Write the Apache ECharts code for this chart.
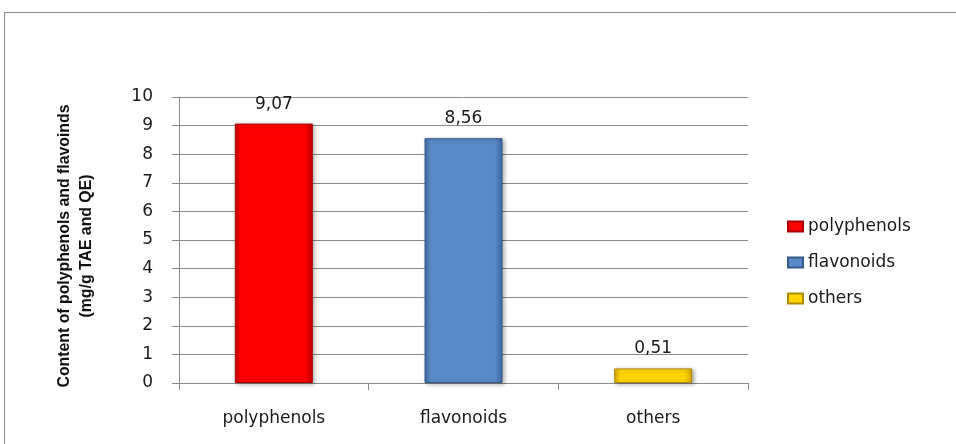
<!DOCTYPE html>
<html>
<head>
<meta charset="utf-8">
<script src="https://cdn.jsdelivr.net/npm/echarts@6/dist/echarts.min.js"></script>
<style>
  html, body { margin: 0; padding: 0; background: #fff; }
  #chart { width: 956px; height: 444px; }
</style>
</head>
<body>
<div id="chart"></div>
<script>
// Categories and measured contents (mg/g TAE and QE)
const categories = ['polyphenols', 'flavonoids', 'others'];
const polyphenols = [9.07, null, null];
const flavonoids = [null, 8.56, null];
const others = [null, null, 0.51];
const yTicks = [0, 1, 2, 3, 4, 5, 6, 7, 8, 9, 10];
const titleLines = ['Content of polyphenols and flavoinds', '(mg/g TAE and QE)'];

const labelFont = '"DejaVu Sans", sans-serif';
const titleFont = 'bold 16px "Liberation Sans", Arial, sans-serif';

// Horizontal compression so the axis title reads as a narrow bold face
const ctx = document.createElement('canvas').getContext('2d');
ctx.font = titleFont;
const titleScale = 283 / ctx.measureText(titleLines[0]).width;

function bevel(edge, mid) {
  return {
    type: 'linear', x: 0, y: 0, x2: 1, y2: 0,
    colorStops: [
      { offset: 0, color: edge },
      { offset: 0.07, color: mid },
      { offset: 0.9, color: mid },
      { offset: 1, color: edge }
    ]
  };
}

function makeSeries(name, data, fill, edge, border) {
  return {
    name: name,
    type: 'bar',
    data: data,
    barWidth: 78,
    barGap: '-100%',
    itemStyle: {
      color: bevel(edge, fill),
      borderColor: border,
      borderWidth: 1,
      shadowColor: 'rgba(0,0,0,0.3)',
      shadowBlur: 4,
      shadowOffsetX: 2,
      shadowOffsetY: 1
    },
    label: {
      show: true,
      position: 'top',
      distance: 11,
      color: '#1a1a1a',
      fontFamily: labelFont,
      fontSize: 17,
      formatter: p => p.value == null ? '' : p.value.toFixed(2).replace('.', ',')
    }
  };
}

function titleText(text, x) {
  return {
    type: 'text',
    x: x,
    y: 246,
    rotation: Math.PI / 2,
    scaleX: titleScale,
    style: {
      text: text,
      font: titleFont,
      fill: '#111',
      align: 'center',
      verticalAlign: 'middle'
    }
  };
}

const chart = echarts.init(document.getElementById('chart'), null, { renderer: 'canvas' });
chart.setOption({
  animation: false,
  backgroundColor: '#fff',
  graphic: [{
    type: 'rect',
    shape: { x: 4.5, y: 12.5, width: 970, height: 450 },
    style: { fill: 'none', stroke: '#8a8a8a', lineWidth: 1 },
    z: -1
  }, titleText(titleLines[0], 65), titleText(titleLines[1], 87)],
  grid: { left: 179, right: 208, top: 97, bottom: 61, containLabel: false },
  legend: {
    orient: 'vertical',
    left: 787,
    top: 218,
    padding: 0,
    itemWidth: 15,
    itemHeight: 10,
    itemGap: 19,
    icon: 'rect',
    textStyle: { fontFamily: labelFont, fontSize: 17, color: '#1a1a1a' },
    data: categories
  },
  xAxis: {
    type: 'category',
    data: categories,
    axisLine: { lineStyle: { color: '#8a8a8a' } },
    axisTick: { show: true, length: 7, lineStyle: { color: '#8a8a8a' } },
    axisLabel: { margin: 27, color: '#1a1a1a', fontFamily: labelFont, fontSize: 17 }
  },
  yAxis: {
    type: 'value',
    min: yTicks[0],
    max: yTicks[yTicks.length - 1],
    interval: 1,
    axisLine: { show: true, lineStyle: { color: '#8a8a8a' } },
    axisTick: { show: true, length: 7, lineStyle: { color: '#8a8a8a' } },
    splitLine: { lineStyle: { color: '#8a8a8a' } },
    axisLabel: { margin: 26, color: '#1a1a1a', fontFamily: labelFont, fontSize: 17 }
  },
  series: [
    makeSeries('polyphenols', polyphenols, '#ff0000', '#c00000', '#a80000'),
    makeSeries('flavonoids', flavonoids, '#5a8ac8', '#3f6aa3', '#35598a'),
    makeSeries('others', others, '#ffd400', '#d8a800', '#b08a00')
  ]
});
</script>
</body>
</html>
